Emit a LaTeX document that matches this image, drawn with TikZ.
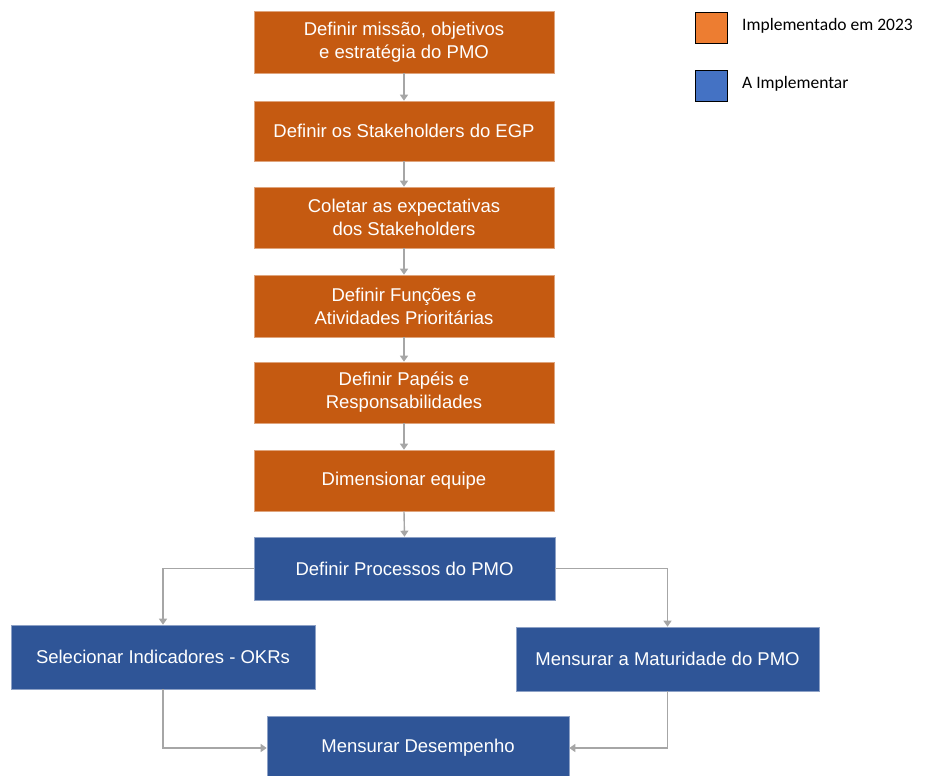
\documentclass[tikz,border=0pt]{standalone}
\usepackage{fontspec}
\setmainfont{Liberation Sans}
\newfontfamily\legendfont{Carlito}
\usetikzlibrary{arrows.meta}
\definecolor{feito}{HTML}{C55A11}
\definecolor{afazer}{HTML}{2F5597}
\definecolor{feitoleg}{HTML}{ED7D31}
\definecolor{afazerleg}{HTML}{4472C4}
\definecolor{seta}{HTML}{A6A6A6}

\begin{document}
\begin{tikzpicture}[x=1pt,y=-1pt,
  etapa/.style={fill=#1, draw=#1!55!white, line width=0.6pt, text=white,
    align=center, inner sep=0pt, minimum width=300pt, minimum height=62pt,
    font=\fontsize{18.5}{23}\selectfont},
  liga/.style={draw=seta, line width=1.4pt, -{Triangle[width=8pt,length=6pt]}},
  legbox/.style={fill=#1, draw=black, line width=1.2pt, minimum width=32pt,
    minimum height=31pt, inner sep=0pt},
  legtxt/.style={anchor=west, inner sep=0pt, font=\legendfont\fontsize{17.5}{20}\selectfont}]
 \useasboundingbox (0,0) rectangle (926,776);
 % etapas implementadas
 \node[etapa=feito] (missao) at (404,42) {Definir missão, objetivos\\e estratégia do PMO};
 \node[etapa=feito, minimum height=60pt] (stake) at (404,131) {Definir os Stakeholders do EGP};
 \node[etapa=feito, minimum height=61pt] (expect) at (404,217.5) {Coletar as expectativas\\dos Stakeholders};
 \node[etapa=feito] (funcoes) at (404,306) {Definir Funções e\\Atividades Prioritárias};
 \node[etapa=feito, minimum height=61pt] (papeis) at (404,392.5) {Definir Papéis e\\Responsabilidades};
 \node[etapa=feito, minimum height=61pt] (equipe) at (404,480.5) {Dimensionar equipe};
 % etapas a implementar
 \node[etapa=afazer, minimum width=301pt, minimum height=63pt] (proc) at (404.5,568.5) {Definir Processos do PMO};
 \node[etapa=afazer, minimum width=304pt, minimum height=64pt] (okr) at (163,657) {Selecionar Indicadores - OKRs};
 \node[etapa=afazer, minimum width=303pt, minimum height=64pt] (matur) at (667.5,659) {Mensurar a Maturidade do PMO};
 \node[etapa=afazer, minimum width=302pt, minimum height=64pt] (desemp) at (418,748) {Mensurar Desempenho};
 % ligacoes
 \foreach \a/\b in {missao/stake,stake/expect,expect/funcoes,funcoes/papeis,papeis/equipe,equipe/proc}
   \draw[liga] (\a.south) -- (\b.north);
 \draw[liga] (proc.west) -| (okr.north);
 \draw[liga] (proc.east) -| (matur.north);
 \draw[liga] (okr.south) |- (desemp.west);
 \draw[liga] (matur.south) |- (desemp.east);
 % legenda
 \node[legbox=feitoleg] (legA) at (711.5,28) {};
 \node[legtxt] (legAtxt) at (742,26) {Implementado em 2023};
 \node[legbox=afazerleg] (legB) at (711.5,86) {};
 \node[legtxt] (legBtxt) at (742,84) {A Implementar};
\end{tikzpicture}
\end{document}
